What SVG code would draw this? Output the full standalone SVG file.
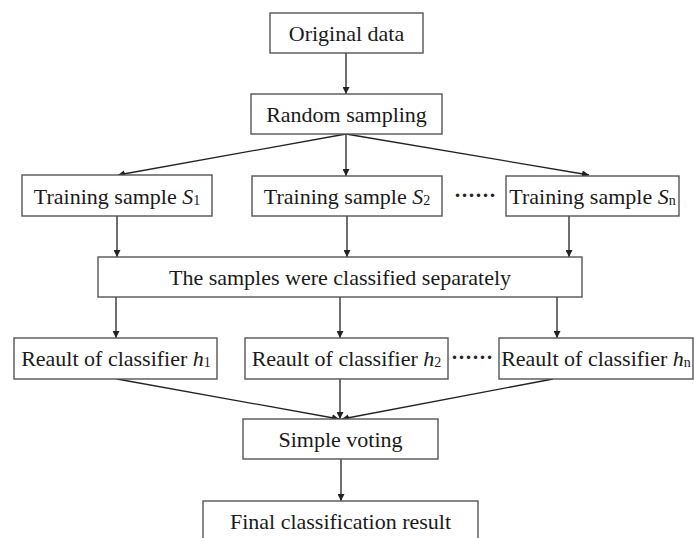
<svg xmlns="http://www.w3.org/2000/svg" width="694" height="538" viewBox="0 0 694 538">
<defs>
<style>
.box{fill:#fff;stroke:#555;stroke-width:1.4}
.t{font-family:"Liberation Serif","Times New Roman",serif;font-size:22px;fill:#1a1a1a;text-anchor:middle}
.sub{font-size:14px}
.it{font-style:italic}
.c{stroke:#222;stroke-width:1.3;fill:none}
.dots{font-family:"Liberation Serif",serif;font-size:21px;fill:#222;font-weight:bold}
</style>
<marker id="ah" viewBox="0 0 10 10" refX="10" refY="5" markerWidth="7" markerHeight="7" markerUnits="userSpaceOnUse" orient="auto">
<path d="M0,0 L10,5 L0,10 z" fill="#222"/>
</marker>
</defs>
<rect width="694" height="538" fill="#fff"/>
<g id="connectors">
<line class="c" x1="346" y1="53" x2="346" y2="94" marker-end="url(#ah)"/>
<line class="c" x1="346" y1="134" x2="118" y2="175" marker-end="url(#ah)"/>
<line class="c" x1="346" y1="134" x2="346" y2="176" marker-end="url(#ah)"/>
<line class="c" x1="346" y1="134" x2="589" y2="175" marker-end="url(#ah)"/>
<line class="c" x1="117" y1="216" x2="117" y2="257" marker-end="url(#ah)"/>
<line class="c" x1="347" y1="216" x2="347" y2="257" marker-end="url(#ah)"/>
<line class="c" x1="569" y1="216" x2="569" y2="257" marker-end="url(#ah)"/>
<line class="c" x1="116" y1="297" x2="116" y2="338" marker-end="url(#ah)"/>
<line class="c" x1="340" y1="297" x2="340" y2="338" marker-end="url(#ah)"/>
<line class="c" x1="557" y1="297" x2="557" y2="338" marker-end="url(#ah)"/>
<line class="c" x1="117" y1="379" x2="339" y2="419" marker-end="url(#ah)"/>
<line class="c" x1="340" y1="379" x2="340" y2="419" marker-end="url(#ah)"/>
<line class="c" x1="553" y1="379" x2="342" y2="419" marker-end="url(#ah)"/>
<line class="c" x1="341" y1="459" x2="341" y2="501" marker-end="url(#ah)"/>
</g>
<g id="original">
<rect class="box" x="270" y="13" width="153" height="40"/>
<text class="t" x="346.5" y="40.5">Original data</text>
</g>
<g id="random">
<rect class="box" x="251" y="94" width="191" height="40"/>
<text class="t" x="346.5" y="121.5">Random sampling</text>
</g>
<g id="s1">
<rect class="box" x="22" y="175" width="190" height="41"/>
<text class="t" x="117" y="203.5">Training sample <tspan class="it">S</tspan><tspan class="sub" dy="1">1</tspan></text>
</g>
<g id="s2">
<rect class="box" x="252" y="176" width="190" height="40"/>
<text class="t" x="347" y="203.5">Training sample <tspan class="it">S</tspan><tspan class="sub" dy="1">2</tspan></text>
</g>
<g id="dots1"><text class="dots" x="454" y="202">······</text></g>
<g id="sn">
<rect class="box" x="506" y="176" width="173" height="40"/>
<text class="t" x="592.5" y="203.5">Training sample <tspan class="it">S</tspan><tspan class="sub" dy="1">n</tspan></text>
</g>
<g id="classified">
<rect class="box" x="98" y="257" width="484" height="40"/>
<text class="t" x="340" y="284.5">The samples were classified separately</text>
</g>
<g id="h1">
<rect class="box" x="14" y="338" width="203" height="41"/>
<text class="t" x="116" y="365.5">Reault of classifier <tspan class="it">h</tspan><tspan class="sub" dy="1">1</tspan></text>
</g>
<g id="h2">
<rect class="box" x="245" y="338" width="203" height="41"/>
<text class="t" x="346.5" y="365.5">Reault of classifier <tspan class="it">h</tspan><tspan class="sub" dy="1">2</tspan></text>
</g>
<g id="dots2"><text class="dots" x="451" y="364">······</text></g>
<g id="hn">
<rect class="box" x="499" y="338" width="194" height="41"/>
<text class="t" x="596" y="365.5">Reault of classifier <tspan class="it">h</tspan><tspan class="sub" dy="1">n</tspan></text>
</g>
<g id="voting">
<rect class="box" x="243" y="419" width="195" height="40"/>
<text class="t" x="340.5" y="446.5">Simple voting</text>
</g>
<g id="final">
<rect class="box" x="203" y="501" width="275" height="45"/>
<text class="t" x="340.5" y="528.5">Final classification result</text>
</g>
</svg>
